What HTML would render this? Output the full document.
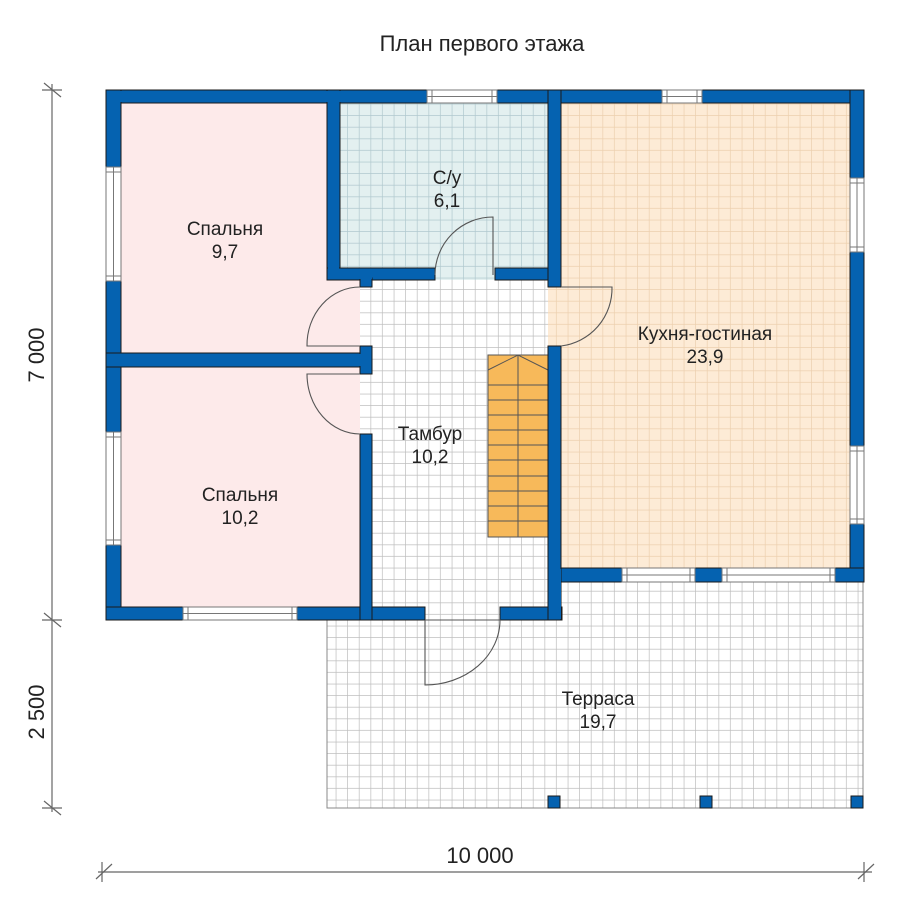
<!DOCTYPE html>
<html><head><meta charset="utf-8"><style>
html,body{margin:0;padding:0;background:#fff;}
svg{display:block;}
text{font-family:"Liberation Sans",Arial,sans-serif;fill:#222;}
</style></head><body>
<svg width="900" height="900" viewBox="0 0 900 900" xmlns="http://www.w3.org/2000/svg">
<defs>
<pattern id="gw" x="0" y="0" width="11.6" height="11.6" patternUnits="userSpaceOnUse">
<rect width="11.6" height="11.6" fill="#fff"/><path d="M11.6 0V11.6M0 11.6H11.6" stroke="#bdbdbd" stroke-width="1.4"/></pattern>
<pattern id="gt" x="0" y="0" width="11.6" height="11.6" patternUnits="userSpaceOnUse">
<rect width="11.6" height="11.6" fill="#e3f0f0"/><path d="M11.6 0V11.6M0 11.6H11.6" stroke="#b0c8ce" stroke-width="1.4"/></pattern>
<pattern id="gk" x="0" y="0" width="11.6" height="11.6" patternUnits="userSpaceOnUse">
<rect width="11.6" height="11.6" fill="#fdebd6"/><path d="M11.6 0V11.6M0 11.6H11.6" stroke="#eccfae" stroke-width="1.4"/></pattern>
</defs>

<text x="482" y="51" font-size="22" text-anchor="middle">План первого этажа</text>

<!-- floors -->
<rect x="327" y="582" width="536" height="226" fill="url(#gw)" stroke="#888" stroke-width="1"/>
<rect x="360" y="268" width="201" height="340" fill="url(#gw)"/>
<rect x="548" y="103" width="302" height="466" fill="url(#gk)"/>
<rect x="340" y="103" width="208" height="166" fill="url(#gt)"/>
<rect x="435" y="260" width="60" height="20" fill="url(#gt)"/>
<rect x="121" y="103" width="206" height="251" fill="#fdeaea"/>
<rect x="121" y="280" width="239" height="74" fill="#fdeaea"/>
<rect x="121" y="367" width="239" height="241" fill="#fdeaea"/>

<!-- stairs -->
<g stroke="#555" stroke-width="1" fill="#f7b95a">
<rect x="488" y="355" width="60" height="182"/>
<path d="M518 355V537M488 370L518 355L548 370M488 385H548M488 400H548M488 415H548M488 430H548M488 445H548M488 460H548M488 476H548M488 491H548M488 506H548M488 521H548" fill="none"/>
</g>

<!-- walls -->
<g fill="#0562b0" stroke="#1a1a1a" stroke-width="1">
<rect x="106" y="90" width="321" height="13"/>
<rect x="497" y="90" width="165" height="13"/>
<rect x="702" y="90" width="162" height="13"/>
<rect x="106" y="90" width="15" height="77"/>
<rect x="106" y="281" width="15" height="151"/>
<rect x="106" y="545" width="15" height="75"/>
<rect x="850" y="90" width="14" height="88"/>
<rect x="850" y="252" width="14" height="194"/>
<rect x="850" y="524" width="14" height="58"/>
<rect x="106" y="607" width="77" height="13"/>
<rect x="297" y="607" width="128" height="13"/>
<rect x="500" y="607" width="62" height="13"/>
<rect x="548" y="568" width="74" height="14"/>
<rect x="695" y="568" width="27" height="14"/>
<rect x="835" y="568" width="29" height="14"/>
<rect x="327" y="90" width="13" height="190"/>
<rect x="327" y="268" width="108" height="12"/>
<rect x="360" y="278" width="12" height="9"/>
<rect x="495" y="268" width="66" height="12"/>
<rect x="548" y="90" width="13" height="197"/>
<rect x="106" y="353" width="266" height="14"/>
<rect x="360" y="346" width="12" height="28"/>
<rect x="360" y="434" width="12" height="186"/>
<rect x="548" y="346" width="13" height="274"/>
<rect x="548" y="796" width="12" height="12"/>
<rect x="700" y="796" width="12" height="12"/>
<rect x="851" y="796" width="12" height="12"/>
</g>
<g fill="#0562b0">
<rect x="107" y="91" width="319" height="11"/>
<rect x="328" y="91" width="11" height="188"/>
<rect x="549" y="91" width="11" height="195"/>
<rect x="107" y="91" width="13" height="75"/>
<rect x="851" y="91" width="12" height="86"/>
<rect x="107" y="354" width="264" height="12"/>
<rect x="361" y="608" width="10" height="11"/>
<rect x="549" y="569" width="12" height="50"/>
<rect x="107" y="608" width="13" height="11"/>
<rect x="851" y="569" width="12" height="12"/>
<rect x="328" y="269" width="44" height="10"/>
<rect x="549" y="269" width="11" height="10"/>
</g>

<!-- windows -->
<g fill="#fff" stroke="#777" stroke-width="1">
<rect x="427" y="90" width="70" height="13"/><path d="M432 90V103M492 90V103M427 96.5H497" fill="none"/>
<rect x="662" y="90" width="40" height="13"/><path d="M667 90V103M697 90V103M662 96.5H702" fill="none"/>
<rect x="106" y="167" width="15" height="114"/><path d="M106 172H121M106 276H121M113.5 167V281" fill="none"/>
<rect x="106" y="432" width="15" height="113"/><path d="M106 437H121M106 540H121M113.5 432V545" fill="none"/>
<rect x="850" y="178" width="14" height="74"/><path d="M850 183H864M850 247H864M857 178V252" fill="none"/>
<rect x="850" y="446" width="14" height="78"/><path d="M850 451H864M850 519H864M857 446V524" fill="none"/>
<rect x="183" y="607" width="114" height="13"/><path d="M188 607V620M292 607V620M183 613.5H297" fill="none"/>
<rect x="622" y="568" width="73" height="14"/><path d="M627 568V582M690 568V582M622 575H695" fill="none"/>
<rect x="722" y="568" width="113" height="14"/><path d="M727 568V582M830 568V582M722 575H835" fill="none"/>
</g>

<!-- doors -->
<g fill="none" stroke="#555" stroke-width="1.1">
<path d="M493 275V217A58 58 0 0 0 435 275"/>
<path d="M561 287H612A58 58 0 0 1 561 346"/>
<path d="M360 346H307A53 58 0 0 1 360 287"/>
<path d="M360 374H307A53 60 0 0 0 360 434"/>
<path d="M425 620V685A75 65 0 0 0 500 620H425"/>
</g>

<!-- labels -->
<g font-size="19" text-anchor="middle">
<text x="447" y="184">С/у</text><text x="447" y="207">6,1</text>
<text x="225" y="235">Спальня</text><text x="225" y="258">9,7</text>
<text x="705" y="340">Кухня-гостиная</text><text x="705" y="363">23,9</text>
<text x="430" y="440">Тамбур</text><text x="430" y="463">10,2</text>
<text x="240" y="501">Спальня</text><text x="240" y="524">10,2</text>
<text x="598" y="705">Терраса</text><text x="598" y="728">19,7</text>
</g>

<!-- dimensions -->
<g stroke="#666" stroke-width="1.2" fill="none">
<path d="M52 84V812"/>
<path d="M42 90H62M44 83L61 97"/>
<path d="M42 620H62M44 613L61 627"/>
<path d="M42 808H62M44 801L61 815"/>
<path d="M98 872H872"/>
<path d="M102 862V882M96 879L112 864"/>
<path d="M864 862V882M858 879L874 864"/>
</g>
<g font-size="22" text-anchor="middle">
<text transform="translate(44 355) rotate(-90)">7 000</text>
<text transform="translate(44 712) rotate(-90)">2 500</text>
<text x="480" y="863">10 000</text>
</g>
</svg>
</body></html>
